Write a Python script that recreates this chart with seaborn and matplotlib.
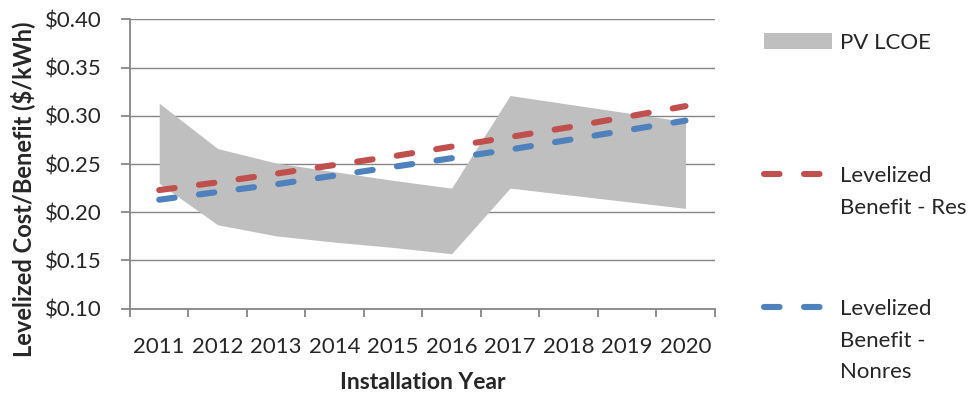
import matplotlib
matplotlib.use("Agg")
import matplotlib.pyplot as plt
from matplotlib.lines import Line2D
from matplotlib.legend_handler import HandlerLine2D
from matplotlib.ticker import FixedLocator, StrMethodFormatter
import seaborn as sns
import pandas as pd

# --- data ($/kWh) ---
years = [2011, 2012, 2013, 2014, 2015, 2016, 2017, 2018, 2019, 2020]
lcoe_low = [0.230, 0.187, 0.1755, 0.169, 0.1635, 0.157, 0.225, 0.218, 0.211, 0.204]
lcoe_high = [0.313, 0.266, 0.251, 0.242, 0.233, 0.225, 0.321, 0.312, 0.303, 0.294]
benefit_res = [0.223, 0.231, 0.240, 0.249, 0.258, 0.268, 0.278, 0.288, 0.299, 0.310]
benefit_nonres = [0.213, 0.221, 0.229, 0.238, 0.247, 0.256, 0.265, 0.275, 0.285, 0.295]
y_ticks = [0.10, 0.15, 0.20, 0.25, 0.30, 0.35, 0.40]

series_names = ["PV LCOE", "Levelized Benefit - Res", "Levelized Benefit - Nonres"]
legend_rows = [["PV LCOE"], ["Levelized", "Benefit - Res"], ["Levelized", "Benefit -", "Nonres"]]
line_colors = ["#C0504D", "#4F81BD"]

sns.set_theme(style="white")
plt.rcParams["font.family"] = ["Lato", "DejaVu Sans"]
plt.rcParams["lines.scale_dashes"] = False

W, H = 974, 395
GRID = "#868686"
FS = 16

fig = plt.figure(figsize=(W / 100, H / 100), dpi=100, facecolor="white")
ax = fig.add_axes([130 / W, 1 - 308.7 / H, 584.7 / W, 289.4 / H])

# cost range band
band = ax.fill_between(years, lcoe_low, lcoe_high, color="#BFBFBF", lw=0,
                       label=series_names[0], zorder=1)

# benefit lines
df = pd.DataFrame({"year": years,
                   series_names[1]: benefit_res,
                   series_names[2]: benefit_nonres})
lines = []
for name, color in zip(series_names[1:], line_colors):
    sns.lineplot(data=df, x="year", y=name, color=color, lw=4.4,
                 linestyle=(0, (11.2, 17.6)), dash_capstyle="round",
                 legend=False, ax=ax, zorder=3)
    ln = ax.lines[-1]
    ln.set_label(name)
    lines.append(ln)

# axes styling
ax.set_xlim(2010.5, 2020.5)
ax.set_ylim(0.10, 0.40)
ax.set_xticks(years)
ax.set_xticklabels([str(y) for y in years])
ax.xaxis.set_minor_locator(FixedLocator([y - 0.5 for y in years] + [years[-1] + 0.5]))
ax.set_yticks(y_ticks)
ax.yaxis.set_major_formatter(StrMethodFormatter(r"\${x:.2f}"))

ax.tick_params(axis="x", which="major", length=0, pad=20.4, labelsize=FS, bottom=True)
ax.tick_params(axis="x", which="minor", length=6, width=1.3, color=GRID,
               direction="out", bottom=True)
ax.tick_params(axis="y", which="major", length=6.5, width=1.3, color=GRID,
               direction="out", pad=13.7, labelsize=FS, left=True)

ax.yaxis.grid(True, color=GRID, lw=1.0)
ax.xaxis.grid(False)
ax.set_axisbelow(True)
for side in ("top", "right"):
    ax.spines[side].set_visible(False)
for side in ("left", "bottom"):
    ax.spines[side].set_color(GRID)
    ax.spines[side].set_linewidth(1.3)

ax.set_xlabel("Installation Year", fontsize=16.5, fontweight="bold")
ax.set_ylabel("Levelized Cost/Benefit ($/kWh)", fontsize=17, fontweight="bold")
ax.xaxis.set_label_coords(0.5, -0.2195)
ax.yaxis.set_label_coords(-0.162, 0.4136)

# legend on the right; first line of each label in the legend itself
leg = ax.legend([band] + lines, [r[0] for r in legend_rows],
                loc="upper left", bbox_to_anchor=(764 / W, 1 - 32.9 / H),
                bbox_transform=fig.transFigure, frameon=False,
                borderpad=0, borderaxespad=0, handlelength=3.06,
                handleheight=0.7, handletextpad=0.36, labelspacing=5.09,
                fontsize=FS, handler_map={Line2D: HandlerLine2D(marker_pad=0)})

# wrapped continuation lines under each legend label
fig.canvas.draw()
for txt, rows in zip(leg.get_texts(), legend_rows):
    x0, y0 = txt.get_transform().transform((0, 0))
    for i, extra in enumerate(rows[1:], start=1):
        fig.text(x0 / W, (y0 - i * 31.6) / H, extra, fontsize=FS,
                 ha="left", va="baseline")

fig.savefig("out.png", dpi=100, facecolor="white")
